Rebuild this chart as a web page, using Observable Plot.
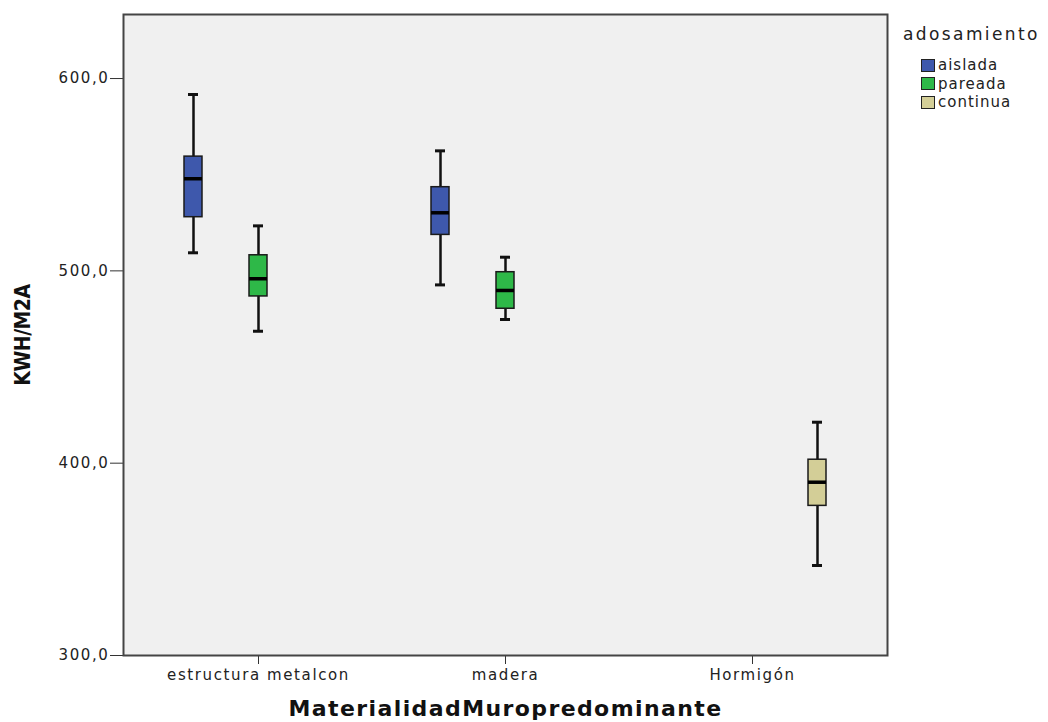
<!DOCTYPE html>
<html>
<head>
<meta charset="utf-8">
<script src="https://cdn.jsdelivr.net/npm/d3@7"></script>
<script src="https://cdn.jsdelivr.net/npm/@observablehq/plot@0.6"></script>
<style>
  html, body { margin: 0; padding: 0; background: #ffffff; }
  #chart { position: relative; width: 1048px; height: 722px; }
  #chart svg { display: block; }
  #chart g[aria-label="x-axis tick label"] text,
  #chart g[aria-label="y-axis tick label"] text {
    font-family: "DejaVu Sans", sans-serif; font-size: 15px; letter-spacing: 1.6px; fill: #222;
  }
  #chart g[aria-label="x-axis label"] text {
    font-family: "DejaVu Sans", sans-serif; font-weight: bold; font-size: 22px; letter-spacing: 1.4px; fill: #111;
  }
  #chart g[aria-label="y-axis label"] text {
    font-family: "Liberation Sans Narrow", "DejaVu Sans Condensed", sans-serif; font-weight: bold; font-size: 21px; letter-spacing: -0.5px; fill: #111;
  }
  .legend { position: absolute; left: 903px; top: 24px; font-family: "DejaVu Sans", sans-serif; color: #222; }
  .legend .title { font-size: 17px; letter-spacing: 2.4px; margin-bottom: 12px; }
  .legend .item { display: flex; align-items: center; height: 18.5px; margin-left: 18px; font-size: 15px; letter-spacing: 1px; }
  .legend .sw { width: 12px; height: 11px; border: 1.5px solid #222; margin-right: 3px; }
</style>
</head>
<body>
<div id="chart"></div>
<script>
// Wall material categories and attachment groups
const categories = ["estructura metalcon", "madera", "Hormigón"];
const groups = ["aislada", "pareada", "continua"];
const groupColors = ["#3e58ac", "#2eb848", "#d3ce97"];

// One box per (material, attachment) pair that has data
const boxCategory = ["estructura metalcon", "estructura metalcon", "madera", "madera", "Hormigón"];
const boxGroup = ["aislada", "pareada", "aislada", "pareada", "continua"];
const whiskerLow = [509.4, 468.6, 492.7, 474.7, 346.8];
const quartile1 = [527.9, 486.7, 518.7, 480.3, 377.8];
const median = [547.9, 495.9, 530.2, 489.8, 390.1];
const quartile3 = [559.4, 508.1, 543.5, 499.3, 401.8];
const whiskerHigh = [591.7, 523.4, 562.4, 507.1, 421.3];

const yTicks = [300, 400, 500, 600];

const boxes = boxCategory.map((c, i) => ({
  category: c,
  group: boxGroup[i],
  low: whiskerLow[i],
  q1: quartile1[i],
  median: median[i],
  q3: quartile3[i],
  high: whiskerHigh[i]
}));

// Boxes of a cluster sit side by side around the category tick
const clusterStep = 65;
const groupMarks = groups.flatMap((g, gi) => {
  const rows = boxes.filter(d => d.group === g);
  const dx = (gi - 1) * clusterStep;
  return [
    Plot.ruleX(rows, {x: "category", y1: "low", y2: "high", stroke: "#111", strokeWidth: 2.5, dx}),
    Plot.tickY(rows, {x: "category", y: "low", stroke: "#111", strokeWidth: 3, insetLeft: 4, insetRight: 4, dx}),
    Plot.tickY(rows, {x: "category", y: "high", stroke: "#111", strokeWidth: 3, insetLeft: 4, insetRight: 4, dx}),
    Plot.barY(rows, {x: "category", y1: "q1", y2: "q3", fill: "group", stroke: "#1a1a1a", strokeWidth: 1.5, dx}),
    Plot.tickY(rows, {x: "category", y: "median", stroke: "#000", strokeWidth: 3.5, dx})
  ];
});

const chart = Plot.plot({
  width: 1048,
  height: 722,
  marginTop: 14,
  marginLeft: 123,
  marginRight: 161,
  marginBottom: 67,
  style: {background: "transparent", overflow: "visible"},
  x: {type: "band", domain: categories, paddingInner: 0.927, paddingOuter: 0.51, axis: null},
  y: {domain: [300, 633.3], axis: null},
  color: {type: "ordinal", domain: groups, range: groupColors},
  marks: [
    Plot.frame({fill: "#f0f0f0"}),
    Plot.axisX({
      tickSize: 9,
      tickPadding: 5,
      stroke: "#333",
      label: "MaterialidadMuropredominante",
      labelAnchor: "center",
      labelOffset: 60
    }),
    Plot.axisY({
      ticks: yTicks,
      tickFormat: d => d.toFixed(1).replace(".", ","),
      tickSize: 13,
      tickPadding: 1,
      stroke: "#333",
      label: "KWH/M2A",
      labelAnchor: "center",
      labelArrow: false,
      labelOffset: 108
    }),
    ...groupMarks,
    Plot.frame({stroke: "#444", strokeWidth: 2})
  ]
});

const root = document.getElementById("chart");
root.appendChild(chart);

// Legend for the attachment groups, in the right margin
const legend = document.createElement("div");
legend.className = "legend";
legend.innerHTML = `<div class="title">adosamiento</div>` +
  groups.map((g, i) => `<div class="item"><span class="sw" style="background:${groupColors[i]}"></span>${g}</div>`).join("");
root.appendChild(legend);
</script>
</body>
</html>
